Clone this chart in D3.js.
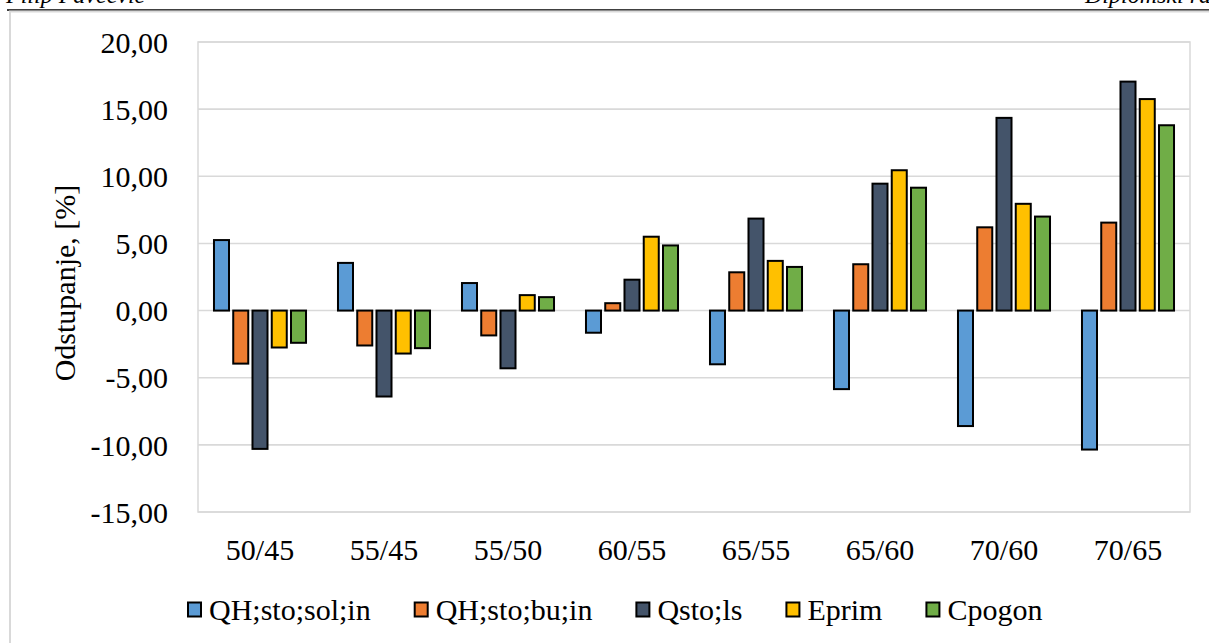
<!DOCTYPE html>
<html>
<head>
<meta charset="utf-8">
<script src="https://cdn.jsdelivr.net/npm/d3@7"></script>
<style>
  html, body { margin: 0; padding: 0; background: #fff; overflow: hidden; }
  svg { display: block; }
</style>
</head>
<body>
<svg id="chart" width="1209" height="643"></svg>
<script>
const categories = ["50/45", "55/45", "55/50", "60/55", "65/55", "65/60", "70/60", "70/65"];
const seriesNames = ["QH;sto;sol;in", "QH;sto;bu;in", "Qsto;ls", "Eprim", "Cpogon"];
const seriesColors = ["#5B9BD5", "#ED7D31", "#44546A", "#FFC000", "#70AD47"];
const qhSol  = [5.25, 3.55, 2.05, -1.65, -4.0, -5.85, -8.6, -10.35];
const qhBu   = [-3.95, -2.6, -1.85, 0.55, 2.85, 3.45, 6.2, 6.55];
const qstoLs = [-10.3, -6.4, -4.3, 2.3, 6.85, 9.45, 14.35, 17.05];
const eprim  = [-2.75, -3.2, 1.15, 5.5, 3.7, 10.45, 7.95, 15.75];
const cpogon = [-2.4, -2.8, 1.0, 4.85, 3.25, 9.15, 7.0, 13.8];
const yTicks = [-15, -10, -5, 0, 5, 10, 15, 20];
const yTitle = "Odstupanje, [%]";
const headerLeft = "Filip Pavčević";
const headerRight = "Diplomski rad";

const seriesValues = [qhSol, qhBu, qstoLs, eprim, cpogon];
const FONT = "'Liberation Serif', 'Times New Roman', Times, 'DejaVu Serif', serif";

const svg = d3.select("#chart");
const plot = { left: 198, right: 1190, top: 42, bottom: 512 };

// header (cropped at the top edge as in the reference)
svg.append("text").attr("x", 6).attr("y", 3)
  .style("font-family", FONT).style("font-style", "italic").style("font-size", "24px").attr("fill", "#000")
  .text(headerLeft);
svg.append("text").attr("x", 1085).attr("y", 3)
  .style("font-family", FONT).style("font-style", "italic").style("font-size", "24px").attr("fill", "#000")
  .text(headerRight);
svg.append("line").attr("x1", 7).attr("x2", 1209).attr("y1", 10).attr("y2", 10)
  .attr("stroke", "#000").attr("stroke-width", 1.6);

// outer chart border
svg.append("rect").attr("x", 10).attr("y", 11.5).attr("width", 1400).attr("height", 800)
  .attr("fill", "none").attr("stroke", "#d9d9d9").attr("stroke-width", 2);

const y = d3.scaleLinear().domain([-15, 20]).range([plot.bottom, plot.top]);
const x0 = d3.scaleBand().domain(categories).range([plot.left, plot.right]).padding(0);
const x1 = d3.scaleBand().domain(seriesNames).range([0, x0.bandwidth()])
  .paddingInner(0.22).paddingOuter(0.83);

// plot area border
svg.append("rect").attr("x", plot.left).attr("y", plot.top)
  .attr("width", plot.right - plot.left).attr("height", plot.bottom - plot.top)
  .attr("fill", "none").attr("stroke", "#d9d9d9").attr("stroke-width", 1.5);

// gridlines
svg.append("g").selectAll("line").data(yTicks).join("line")
  .attr("x1", plot.left).attr("x2", plot.right)
  .attr("y1", d => y(d)).attr("y2", d => y(d))
  .attr("stroke", "#d9d9d9").attr("stroke-width", 1.6);

// y axis labels
const fmt = v => d3.format(".2f")(v).replace(".", ",").replace("−", "-");
const yAxis = d3.axisLeft(y).tickValues(yTicks).tickSize(0).tickPadding(0).tickFormat(fmt);
const yg = svg.append("g").attr("transform", `translate(168,0)`).call(yAxis);
yg.select(".domain").remove();
yg.selectAll("text").style("font-family", FONT).style("font-size", "30px")
  .attr("fill", "#000").attr("dy", "0.34em");

// x axis labels
const xAxis = d3.axisBottom(x0).tickSize(0).tickPadding(0);
const xg = svg.append("g").attr("transform", `translate(0,560)`).call(xAxis);
xg.select(".domain").remove();
xg.selectAll("text").style("font-family", FONT).style("font-size", "30px")
  .attr("fill", "#000").attr("dy", 0).attr("y", 0);

// bars
const rows = [];
categories.forEach((c, ci) => {
  seriesNames.forEach((s, si) => {
    rows.push({ cat: c, series: s, value: seriesValues[si][ci], color: seriesColors[si] });
  });
});
svg.append("g").selectAll("rect").data(rows).join("rect")
  .attr("x", d => x0(d.cat) + x1(d.series))
  .attr("width", x1.bandwidth())
  .attr("y", d => Math.min(y(0), y(d.value)))
  .attr("height", d => Math.abs(y(d.value) - y(0)))
  .attr("fill", d => d.color)
  .attr("stroke", "#000").attr("stroke-width", 2);

// y title
svg.append("text")
  .attr("transform", "translate(75,283) rotate(-90)")
  .attr("text-anchor", "middle").style("font-family", FONT).style("font-size", "30px").attr("fill", "#000")
  .text(yTitle);

// legend
const lg = svg.append("g");
let lx = 188;
const ly = 610;
seriesNames.forEach((s, i) => {
  lg.append("rect").attr("x", lx).attr("y", ly - 7.5).attr("width", 13).attr("height", 14)
    .attr("fill", seriesColors[i]).attr("stroke", "#000").attr("stroke-width", 2);
  const t = lg.append("text").attr("x", lx + 21).attr("y", ly + 10)
    .style("font-family", FONT).style("font-size", "30px").attr("fill", "#000").text(s);
  const w = t.node().getComputedTextLength();
  lx = lx + 21 + w + 44;
});
</script>
</body>
</html>
